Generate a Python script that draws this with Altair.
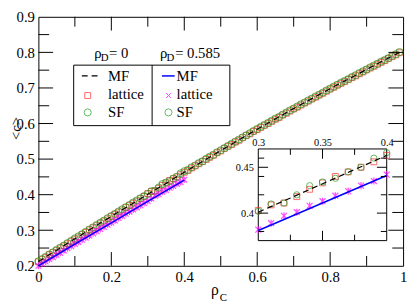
import altair as alt
import pandas as pd

FONT = "Liberation Serif, Times New Roman, serif"

# plot area in page pixels
LEFT, TOP, RIGHT, BOTTOM = 39, 14, 411, 268
W, H = RIGHT - LEFT, BOTTOM - TOP


def PX(x):
    return x - LEFT


def PY(y):
    return y - TOP


# ---------------- data ----------------
rho_c0 = [round(i * 0.01, 2) for i in range(100)]
lattice0 = [
    0.211, 0.218, 0.224, 0.231, 0.237, 0.243, 0.250, 0.256, 0.262, 0.269,
    0.275, 0.281, 0.288, 0.294, 0.301, 0.307, 0.313, 0.320, 0.326, 0.332,
    0.339, 0.345, 0.351, 0.357, 0.364, 0.370, 0.376, 0.382, 0.389, 0.395,
    0.403, 0.409, 0.411, 0.418, 0.426, 0.433, 0.440, 0.445, 0.450, 0.456,
    0.463, 0.468, 0.475, 0.481, 0.487, 0.493, 0.499, 0.505, 0.511, 0.518,
    0.523, 0.530, 0.536, 0.541, 0.548, 0.553, 0.560, 0.566, 0.571, 0.578,
    0.583, 0.589, 0.595, 0.600, 0.606, 0.612, 0.617, 0.624, 0.629, 0.635,
    0.641, 0.646, 0.652, 0.658, 0.663, 0.669, 0.674, 0.680, 0.685, 0.691,
    0.697, 0.702, 0.708, 0.713, 0.718, 0.724, 0.729, 0.734, 0.740, 0.745,
    0.751, 0.756, 0.761, 0.767, 0.772, 0.777, 0.783, 0.788, 0.793, 0.799,
]
sf0 = [
    0.213, 0.219, 0.225, 0.232, 0.238, 0.245, 0.251, 0.257, 0.264, 0.270,
    0.277, 0.283, 0.289, 0.296, 0.302, 0.308, 0.315, 0.321, 0.327, 0.334,
    0.340, 0.346, 0.353, 0.359, 0.365, 0.371, 0.378, 0.384, 0.390, 0.396,
    0.402, 0.410, 0.411, 0.420, 0.430, 0.434, 0.438, 0.445, 0.450, 0.460,
    0.466, 0.470, 0.477, 0.482, 0.489, 0.494, 0.501, 0.507, 0.512, 0.519,
    0.525, 0.531, 0.537, 0.543, 0.549, 0.555, 0.561, 0.567, 0.573, 0.579,
    0.585, 0.591, 0.596, 0.602, 0.608, 0.614, 0.619, 0.625, 0.631, 0.637,
    0.642, 0.648, 0.654, 0.659, 0.665, 0.670, 0.676, 0.681, 0.687, 0.693,
    0.698, 0.704, 0.709, 0.715, 0.720, 0.725, 0.731, 0.736, 0.742, 0.747,
    0.752, 0.758, 0.763, 0.768, 0.774, 0.779, 0.784, 0.790, 0.795, 0.801,
]
rho_c585 = [round(i * 0.01, 2) for i in range(41)]
lattice585 = [
    0.200, 0.206, 0.212, 0.218, 0.224, 0.230, 0.236, 0.243, 0.249, 0.255,
    0.261, 0.267, 0.273, 0.279, 0.285, 0.291, 0.297, 0.303, 0.309, 0.315,
    0.321, 0.327, 0.334, 0.340, 0.346, 0.352, 0.358, 0.364, 0.370, 0.376,
    0.382, 0.389, 0.397, 0.401, 0.408, 0.413, 0.419, 0.424, 0.430, 0.435,
    0.442,
]
mf_x0 = [0.0, 0.1, 0.2, 0.3, 0.4, 0.5, 0.6, 0.7, 0.8, 0.9, 0.99]
mf0 = [0.212, 0.276, 0.339, 0.401, 0.463, 0.524, 0.584, 0.642, 0.698, 0.752, 0.800]
mf_x585 = [0.0, 0.1, 0.2, 0.3, 0.4]
mf585 = [0.200, 0.261, 0.321, 0.381, 0.441]

x_labels = [0, 0.2, 0.4, 0.6, 0.8, 1]
y_labels = [0.2, 0.3, 0.4, 0.5, 0.6, 0.7, 0.8, 0.9]
x_major = [0.2, 0.4, 0.6, 0.8]
x_minor = [0.1, 0.3, 0.5, 0.7, 0.9]
y_major = [0.3, 0.4, 0.5, 0.6, 0.7, 0.8]
y_minor = [0.25, 0.35, 0.45, 0.55, 0.65, 0.75, 0.85]

inset_x_domain = [0.3, 0.4]
inset_y_domain = [0.37, 0.47]
inset_x_labels = [0.3, 0.35, 0.4]
inset_y_labels = [0.4, 0.45]
inset_x_major = [0.35]
inset_x_minor = [0.325, 0.375]
inset_y_major = [0.4, 0.45]
inset_y_minor = [0.38, 0.42, 0.44, 0.46]

# inset placement (page pixels)
IL, IR, IB, IT = PX(263.3), PX(394.3), PY(242.3), PY(148.8)

RED = "#ff2a2a"
GREEN = "#1e9e1e"
MAG = "#ff00ff"
BLUE = "#0000ff"
XSHAPE = "M-1,-1L1,1M-1,1L1,-1"
ASTER = "M-1,-1L1,1M-1,1L1,-1M0,-1.2L0,1.2"

df0 = pd.DataFrame({"x": rho_c0, "lat": lattice0, "sf": sf0})
df585 = pd.DataFrame({"x": rho_c585, "lat": lattice585})
dmf0 = pd.DataFrame({"x": mf_x0, "mf": mf0})
dmf585 = pd.DataFrame({"x": mf_x585, "mf": mf585})
one = pd.DataFrame({"k": [0]})

# ---------------- main plot ----------------
xsc = alt.Scale(domain=[0, 1], nice=False, zero=False)
ysc = alt.Scale(domain=[0.2, 0.9], nice=False, zero=False)
xax = alt.Axis(values=x_labels, format="~g", ticks=False, domain=False, grid=False,
               labelFont=FONT, labelFontSize=15, labelPadding=4, labelFlush=False,
               labelOverlap=False, labelColor="black", title=None, orient="bottom")
yax = alt.Axis(values=y_labels, format=".1f", ticks=False, domain=False, grid=False,
               labelFont=FONT, labelFontSize=15, labelPadding=4, labelFlush=False,
               labelOverlap=False, labelColor="black", title=None, orient="left")


def X(f):
    return alt.X(f, type="quantitative", scale=xsc, axis=xax)


def Y(f):
    return alt.Y(f, type="quantitative", scale=ysc, axis=yax)


m_lat0 = alt.Chart(df0).mark_point(shape="square", filled=False, color=RED, size=36,
                                   strokeWidth=1).encode(x=X("x"), y=Y("lat"))
m_sf0 = alt.Chart(df0).mark_point(shape="circle", filled=False, color=GREEN, size=52,
                                  strokeWidth=1).encode(x=X("x"), y=Y("sf"))
m_lat585 = alt.Chart(df585).mark_point(shape=ASTER, filled=False, color=MAG, size=32,
                                       strokeWidth=1.2).encode(x=X("x"), y=Y("lat"))
m_mf0 = alt.Chart(dmf0).mark_line(color="black", strokeDash=[6, 4], strokeWidth=1.2).encode(
    x=X("x"), y=Y("mf"))
m_mf585 = alt.Chart(dmf585).mark_line(color=BLUE, strokeWidth=1.5).encode(x=X("x"), y=Y("mf"))


def xticks(vals, length):
    d = pd.DataFrame({"t": vals})
    b = alt.Chart(d).mark_rule(color="black", strokeWidth=1).encode(
        x=X("t"), y=alt.value(H), y2=alt.value(H - length))
    t = alt.Chart(d).mark_rule(color="black", strokeWidth=1).encode(
        x=X("t"), y=alt.value(0), y2=alt.value(length))
    return [b, t]


def yticks(vals, length):
    d = pd.DataFrame({"t": vals})
    l = alt.Chart(d).mark_rule(color="black", strokeWidth=1).encode(
        y=Y("t"), x=alt.value(0), x2=alt.value(length))
    r = alt.Chart(d).mark_rule(color="black", strokeWidth=1).encode(
        y=Y("t"), x=alt.value(W), x2=alt.value(W - length))
    return [l, r]


ticks = xticks(x_major, 14) + xticks(x_minor, 10) + yticks(y_major, 15) + yticks(y_minor, 11)


def txt(s, x, y, size=15, align="left", baseline="alphabetic", angle=0):
    kw = dict(font=FONT, fontSize=size, align=align, baseline=baseline, color="black")
    if angle:
        kw["angle"] = angle
    return alt.Chart(one).mark_text(**kw).encode(
        x=alt.value(PX(x)), y=alt.value(PY(y)), text=alt.value(s))


def rule(x1, x2, y1, y2, **kw):
    return alt.Chart(one).mark_rule(**kw).encode(
        x=alt.value(PX(x1)), x2=alt.value(PX(x2)), y=alt.value(PY(y1)), y2=alt.value(PY(y2)))


def sym(shape, x, y, color, size):
    return alt.Chart(one).mark_point(shape=shape, filled=False, color=color, size=size,
                                     strokeWidth=1).encode(x=alt.value(PX(x)), y=alt.value(PY(y)))


legend = [
    alt.Chart(one).mark_rect(fill="white", stroke="black", strokeWidth=1).encode(
        x=alt.value(PX(75)), x2=alt.value(PX(234.3)), y=alt.value(PY(63.3)), y2=alt.value(PY(125))),
    rule(155, 155, 63.3, 125, color="black", strokeWidth=1),
    txt("ρ", 96, 56), txt("D", 102.7, 59.3, size=11), txt("= 0", 111, 56),
    txt("ρ", 163, 56), txt("D", 169.7, 59.3, size=11), txt("= 0.585", 178.5, 56),
    rule(83.3, 100, 74.3, 74.3, color="black", strokeDash=[6, 4], strokeWidth=1.2),
    sym("square", 89.3, 94.3, RED, 36),
    sym("circle", 89.3, 111.5, GREEN, 52),
    rule(165, 178, 74.3, 74.3, color=BLUE, strokeWidth=1.5),
    sym(XSHAPE, 171.7, 94.3, MAG, 25),
    sym("circle", 171.7, 111.5, GREEN, 52),
    txt("MF", 110, 79), txt("lattice", 110, 98.3), txt("SF", 110, 116.7),
    txt("MF", 180, 79), txt("lattice", 180, 98.3), txt("SF", 180, 116.7),
]

titles = [
    txt("ρ", 215, 298, size=16), txt("C", 224, 304, size=11),
    txt("<c>", 16, 128, size=15, align="center", baseline="middle", angle=270),
]

main = alt.layer(m_lat0, m_sf0, m_lat585, m_mf0, m_mf585, *ticks, *legend, *titles)

# ---------------- inset ----------------
ixsc = alt.Scale(domain=inset_x_domain, range=[IL, IR], nice=False, zero=False)
iysc = alt.Scale(domain=inset_y_domain, range=[IB, IT], nice=False, zero=False)
ixax = alt.Axis(values=inset_x_labels, format="~g", ticks=False, domain=False, grid=False,
                labelFont=FONT, labelFontSize=10.5, labelPadding=2, labelFlush=False,
                labelOverlap=False, labelColor="black", title=None, orient="top",
                offset=-IT)
iyax = alt.Axis(values=inset_y_labels, format="~g", ticks=False, domain=False, grid=False,
                labelFont=FONT, labelFontSize=10.5, labelPadding=5, labelFlush=False,
                labelOverlap=False, labelColor="black", title=None, orient="left",
                offset=-IL)


def IX(f):
    return alt.X(f, type="quantitative", scale=ixsc, axis=ixax)


def IY(f):
    return alt.Y(f, type="quantitative", scale=iysc, axis=iyax)


frame_df = pd.DataFrame({"x0": [inset_x_domain[0]], "x1": [inset_x_domain[1]],
                         "y0": [inset_y_domain[0]], "y1": [inset_y_domain[1]]})
frame = alt.Chart(frame_df).mark_rect(fill="white", stroke="black", strokeWidth=1).encode(
    x=IX("x0"), x2="x1", y=IY("y0"), y2="y1")

flt = "datum.x >= 0.2999 && datum.x <= 0.4001"
i_lat0 = alt.Chart(df0).transform_filter(flt).mark_point(
    shape="square", filled=False, color=RED, size=36, strokeWidth=1).encode(x=IX("x"), y=IY("lat"))
i_sf0 = alt.Chart(df0).transform_filter(flt).mark_point(
    shape="circle", filled=False, color=GREEN, size=40, strokeWidth=1).encode(x=IX("x"), y=IY("sf"))
i_lat585 = alt.Chart(df585).transform_filter(flt).mark_point(
    shape=ASTER, filled=False, color=MAG, size=36, strokeWidth=1.2).encode(x=IX("x"), y=IY("lat"))
i_mf0 = alt.Chart(dmf0).transform_filter(flt).mark_line(
    color="black", strokeDash=[6, 4], strokeWidth=1.2).encode(x=IX("x"), y=IY("mf"))
i_mf585 = alt.Chart(dmf585).transform_filter(flt).mark_line(
    color=BLUE, strokeWidth=1.5).encode(x=IX("x"), y=IY("mf"))


def ixticks(vals, length):
    d = pd.DataFrame({"t": vals})
    return [
        alt.Chart(d).mark_rule(color="black", strokeWidth=1).encode(
            x=IX("t"), y=alt.value(IB), y2=alt.value(IB - length)),
        alt.Chart(d).mark_rule(color="black", strokeWidth=1).encode(
            x=IX("t"), y=alt.value(IT), y2=alt.value(IT + length)),
    ]


def iyticks(vals, length):
    d = pd.DataFrame({"t": vals})
    return [
        alt.Chart(d).mark_rule(color="black", strokeWidth=1).encode(
            y=IY("t"), x=alt.value(IL), x2=alt.value(IL + length)),
        alt.Chart(d).mark_rule(color="black", strokeWidth=1).encode(
            y=IY("t"), x=alt.value(IR), x2=alt.value(IR - length)),
    ]


iticks = ixticks(inset_x_major, 10) + ixticks(inset_x_minor, 6) + \
    iyticks(inset_y_major, 10) + iyticks(inset_y_minor, 6)

inset = alt.layer(frame, i_lat0, i_sf0, i_lat585, i_mf0, i_mf585, *iticks)

chart = alt.layer(main, inset).resolve_scale(
    x="independent", y="independent"
).resolve_axis(x="independent", y="independent").properties(
    width=W, height=H,
    padding={"left": LEFT - 8, "top": TOP - 8, "right": 4, "bottom": 38},
    autosize=alt.AutoSizeParams(type="none"),
).configure_view(stroke="black", strokeWidth=1)

chart.save("out.html", embed_options={"renderer": "svg", "actions": False})
